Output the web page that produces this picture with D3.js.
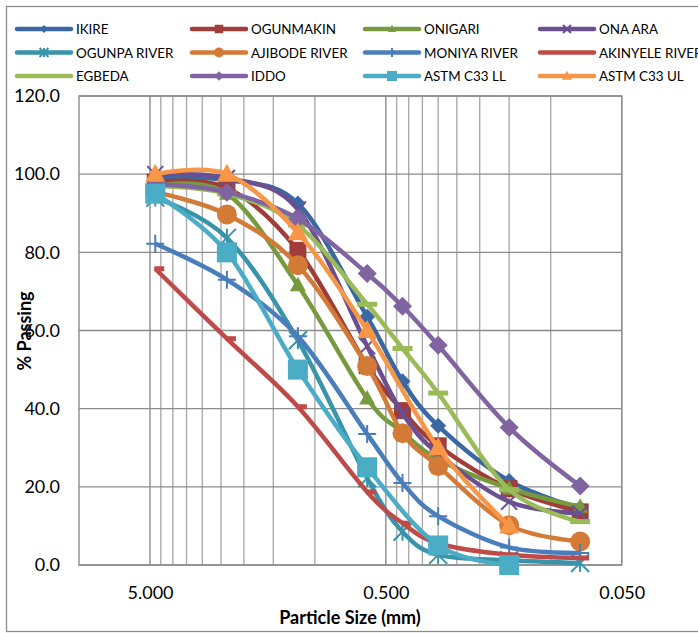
<!DOCTYPE html>
<head>
<meta charset="utf-8">
<script src="https://d3js.org/d3.v7.min.js"></script>
<style>
  body { margin:0; background:#fff; }
  text { font-family: Lato, "Liberation Sans", sans-serif; fill:#000; }
</style>
</head>
<body>
<script>
// sieve sizes (mm) and % passing
const sieves = [4.75, 2.36, 1.18, 0.6, 0.425, 0.3, 0.15, 0.075];
const names = ['IKIRE', 'OGUNMAKIN', 'ONIGARI', 'ONA ARA',
               'OGUNPA RIVER', 'AJIBODE RIVER', 'MONIYA RIVER', 'AKINYELE RIVER',
               'EGBEDA', 'IDDO', 'ASTM C33 LL', 'ASTM C33 UL'];
const ikire     = [99, 98.5, 92.5, 63.5, 47, 35.6, 21.5, 14.5];
const ogunmakin = [98, 96.5, 80.5, 51, 39.5, 30.5, 19.5, 13.6];
const onigari   = [97, 95, 71.6, 42.6, 34, 27, 19.6, 14.9];
const onaAra    = [100, 99, 91, 56, 38.8, 28.5, 16.2, 13.2];
const ogunpa    = [94, 83.7, 57.5, 22.2, 8.5, 2.6, 1.2, 0.5];
const ajibode   = [95.4, 89.7, 76.7, 50.9, 33.7, 25.3, 10.2, 6.0];
const moniya    = [82.2, 73.0, 58.5, 33.5, 21.0, 12.5, 4.5, 3.1];
const akinyele  = [75.8, 57.9, 40.5, 18.7, 10.7, 5.5, 2.6, 1.8];
const egbeda    = [97, 95, 87, 66.7, 55.4, 44.0, 19.3, 11.1];
const iddo      = [97.5, 95.4, 88.6, 74.6, 66.2, 56.2, 35.2, 20.2];
const astmLL    = [95, 80, 50, 25, null, 5, 0, null];
const astmUL    = [100, 100, 85, 60, null, 30, 10, null];
const allSeries = [ikire, ogunmakin, onigari, onaAra, ogunpa, ajibode,
                   moniya, akinyele, egbeda, iddo, astmLL, astmUL];

const yTicks = [0, 20, 40, 60, 80, 100, 120];
const xTicks = [5, 0.5, 0.05];

// styles
const colors = ['#3B68A2', '#A03C3A', '#779A3F', '#6A5090', '#3894AA', '#D37B36',
                '#4A7EBB', '#BE4B48', '#9BBB59', '#8064A2', '#4BACC6', '#F79646'];
const markers = [
  {t:'diamond', s:8}, {t:'square', s:17}, {t:'triangle', s:8}, {t:'x', s:8},
  {t:'star', s:9}, {t:'circle', s:10}, {t:'plus', s:9}, {t:'dash', s:10},
  {t:'longdash', s:20}, {t:'diamond', s:9.5}, {t:'square', s:20}, {t:'triangle', s:10}
];

const W = 698, H = 633;
const plot = {l:79, r:621.7, t:96, b:565};

const svg = d3.select('body').append('svg')
  .attr('width', W).attr('height', H);

// outer chart border
svg.append('rect')
  .attr('x', 6.5).attr('y', 6.5).attr('width', 720).attr('height', 625)
  .style('fill', 'none').style('stroke', '#8c8c8c').style('stroke-width', 1.3);

const x = d3.scaleLog().domain([10, 0.05]).range([plot.l, plot.r]);
const y = d3.scaleLinear().domain([0, 120]).range([plot.b, plot.t]);

// minor vertical grid: 1..4.5 and 0.1..0.45
const minor = [];
[0.5, 0.05].forEach(base => d3.range(2, 10).forEach(m => minor.push(base * m)));

const grid = svg.append('g');
grid.selectAll('.minor').data(minor).enter().append('line')
  .attr('x1', d => x(d)).attr('x2', d => x(d))
  .attr('y1', plot.t).attr('y2', plot.b)
  .style('stroke', '#ababab').style('stroke-width', 1.4);
grid.selectAll('.major').data(xTicks).enter().append('line')
  .attr('x1', d => x(d)).attr('x2', d => x(d))
  .attr('y1', plot.t).attr('y2', plot.b)
  .style('stroke', '#8c8c8c').style('stroke-width', 1.4);
grid.selectAll('.hgrid').data(yTicks).enter().append('line')
  .attr('x1', plot.l).attr('x2', plot.r)
  .attr('y1', d => y(d)).attr('y2', d => y(d))
  .style('stroke', '#8c8c8c').style('stroke-width', 1.4);
svg.append('rect')
  .attr('x', plot.l).attr('y', plot.t)
  .attr('width', plot.r - plot.l).attr('height', plot.b - plot.t)
  .style('fill', 'none').style('stroke', '#8c8c8c').style('stroke-width', 1.4);

// axes
const yAxis = svg.append('g')
  .attr('transform', `translate(${plot.l},0)`)
  .call(d3.axisLeft(y).tickValues(yTicks).tickFormat(d3.format('.1f')).tickSize(0).tickPadding(19));
const xAxis = svg.append('g')
  .attr('transform', `translate(0,${plot.b})`)
  .call(d3.axisBottom(x).tickValues(xTicks).tickFormat(d3.format('.3f')).tickSize(0).tickPadding(21));
[yAxis, xAxis].forEach(a => {
  a.select('.domain').remove();
  a.selectAll('text').style('font-family', 'Lato, sans-serif').style('font-size', '18px').style('fill', '#000');
});

svg.append('text')
  .attr('x', 350).attr('y', 624)
  .attr('text-anchor', 'middle')
  .style('font-size', '18px').style('font-weight', 'bold')
  .text('Particle Size (mm)');
svg.append('text')
  .attr('transform', 'translate(31,331) rotate(-90)')
  .attr('text-anchor', 'middle')
  .style('font-size', '18px').style('font-weight', 'bold')
  .text('% Passing');

function drawMarker(g, m, color, k) {
  const s = m.s * k;
  switch (m.t) {
    case 'diamond':
      return g.append('path').attr('d', `M0,${-s}L${s},0L0,${s}L${-s},0Z`).style('fill', color);
    case 'square':
      return g.append('rect').attr('x', -s / 2).attr('y', -s / 2).attr('width', s).attr('height', s).style('fill', color);
    case 'triangle':
      return g.append('path').attr('d', `M0,${-s * 1.05}L${s},${s * 0.75}L${-s},${s * 0.75}Z`).style('fill', color);
    case 'circle':
      return g.append('circle').attr('r', s).style('fill', color);
    case 'x':
      return g.append('path').attr('d', `M${-s},${-s}L${s},${s}M${-s},${s}L${s},${-s}`)
        .style('stroke', color).style('stroke-width', 2).style('fill', 'none');
    case 'star':
      return g.append('path').attr('d', `M${-s},${-s}L${s},${s}M${-s},${s}L${s},${-s}M0,${-s}L0,${s}`)
        .style('stroke', color).style('stroke-width', 2).style('fill', 'none');
    case 'plus':
      return g.append('path').attr('d', `M${-s},0L${s},0M0,${-s}L0,${s}`)
        .style('stroke', color).style('stroke-width', 2).style('fill', 'none');
    case 'dash':
      return g.append('rect').attr('x', -1).attr('y', -2.5 * k).attr('width', s).attr('height', 5 * k).style('fill', color);
    case 'longdash':
      return g.append('rect').attr('x', -s / 2).attr('y', -2.5 * k).attr('width', s).attr('height', 5 * k).style('fill', color);
  }
}

// series (Excel smoothed lines)
const line = d3.line()
  .x(d => x(d[0])).y(d => y(d[1]))
  .curve(d3.curveCatmullRom.alpha(0));

allSeries.forEach((vals, i) => {
  const pts = sieves.map((s, j) => [s, vals[j]]).filter(p => p[1] != null);
  const g = svg.append('g');
  g.append('path')
    .datum(pts)
    .attr('d', line)
    .style('fill', 'none')
    .style('stroke', colors[i])
    .style('stroke-width', 4.5)
    .style('stroke-linejoin', 'round');
  pts.forEach(p => {
    const mg = g.append('g').attr('transform', `translate(${x(p[0])},${y(p[1])})`);
    drawMarker(mg, markers[i], colors[i], 1);
  });
});

// legend
const legendRows = [29, 52.5, 76];
const legendCols = [17, 192, 365, 540];
names.forEach((name, i) => {
  const lx = legendCols[i % 4], ly = legendRows[Math.floor(i / 4)];
  const g = svg.append('g').attr('transform', `translate(${lx},${ly})`);
  g.append('line').attr('x1', 0).attr('x2', 54)
    .style('stroke', colors[i]).style('stroke-width', 4.5).style('stroke-linecap', 'round');
  const mg = g.append('g').attr('transform', 'translate(27,0)');
  if (markers[i].t !== 'dash' && markers[i].t !== 'longdash') drawMarker(mg, markers[i], colors[i], 0.5);
  g.append('text').attr('x', 59).attr('y', 5)
    .style('font-size', '13.4px')
    .text(name);
});
</script>
</body>
